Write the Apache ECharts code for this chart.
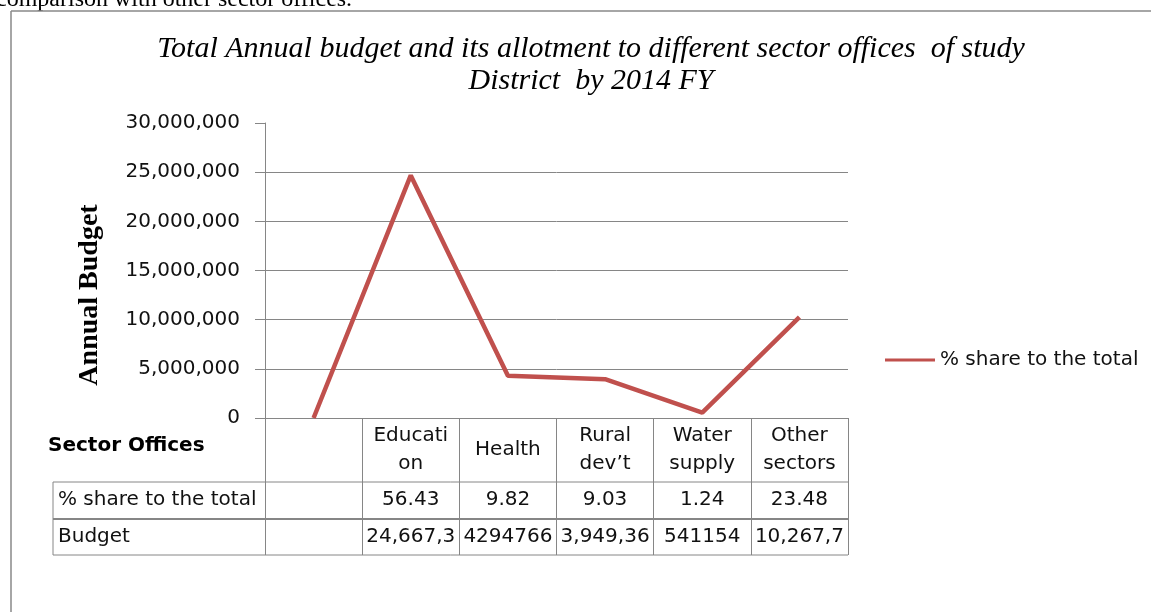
<!DOCTYPE html>
<html>
<head>
<meta charset="utf-8">
<script src="https://cdn.jsdelivr.net/npm/echarts@6/dist/echarts.min.js"></script>
<style>
  html, body { margin: 0; padding: 0; background: #fff; }
  #main { width: 1151px; height: 612px; }
</style>
</head>
<body>
<div id="main"></div>
<script>
// data
const categories = ['', 'Education', 'Health', "Rural dev't", 'Water supply', 'Other sectors']
const categoryLabels = ['', 'Educati\non', 'Health', 'Rural\ndev\u2019t', 'Water\nsupply', 'Other\nsectors']
const budgetValues = [0, 24667350, 4294766, 3949360, 541154, 10267700]
const shareLabels = ['', '56.43', '9.82', '9.03', '1.24', '23.48']
const budgetLabels = ['', '24,667,3', '4294766', '3,949,36', '541154', '10,267,7']
const seriesName = '% share to the total'

const gridColor = '#868686'
const sans = 'DejaVu Sans'

// plot area in px
const gLeft = 265, gRight = 848, gTop = 123, gBottom = 418
const tableLeft = 53, row1 = 482, row2 = 519, row3 = 555

const chart = echarts.init(document.getElementById('main'))

const rowAxis = (labels, offset) => ({
    type: 'category',
    data: labels,
    position: 'bottom',
    offset: offset,
    axisLine: { show: false },
    axisTick: { show: false },
    axisLabel: {
        interval: 0,
        margin: 0,
        verticalAlign: 'middle',
        fontFamily: sans,
        fontSize: 20,
        color: '#111'
    }
})

const option = {
    animation: false,
    backgroundColor: '#fff',
    title: {
        text: 'Total Annual budget and its allotment to different sector offices  of study\nDistrict  by 2014 FY',
        left: 586,
        top: 28,
        textAlign: 'center',
        textStyle: {
            fontFamily: 'Liberation Serif',
            fontStyle: 'italic',
            fontWeight: 'normal',
            fontSize: 30,
            lineHeight: 32,
            color: '#000'
        }
    },
    legend: {
        left: 880,
        top: 345,
        icon: 'rect',
        itemWidth: 50,
        itemHeight: 3,
        data: [seriesName],
        textStyle: { fontFamily: sans, fontSize: 20, color: '#111' }
    },
    grid: {
        left: gLeft,
        right: 1151 - gRight,
        top: gTop,
        bottom: 612 - gBottom,
        containLabel: false
    },
    xAxis: [
        {
            type: 'category',
            data: categories,
            boundaryGap: true,
            axisLine: { lineStyle: { color: gridColor, width: 1 } },
            axisTick: {
                show: true,
                interval: 0,
                length: row3 - gBottom,
                lineStyle: { color: gridColor, width: 1 }
            },
            axisLabel: {
                interval: 0,
                margin: 32,
                verticalAlign: 'middle',
                lineHeight: 28,
                fontFamily: sans,
                fontSize: 20,
                color: '#111',
                formatter: (v, i) => categoryLabels[i]
            }
        },
        rowAxis(shareLabels, row1 + 18 - gBottom),
        rowAxis(budgetLabels, row2 + 18 - gBottom)
    ],
    yAxis: {
        type: 'value',
        min: 0,
        max: 30000000,
        interval: 5000000,
        axisLine: { show: true, lineStyle: { color: gridColor } },
        axisTick: { show: true, length: 10, lineStyle: { color: gridColor } },
        splitLine: { show: true, showMaxLine: false, lineStyle: { color: gridColor } },
        axisLabel: {
            margin: 25,
            fontFamily: sans,
            fontSize: 20,
            color: '#111',
            formatter: v => v.toLocaleString('en-US')
        }
    },
    series: [
        {
            name: seriesName,
            type: 'line',
            data: budgetValues,
            symbol: 'none',
            color: '#C0504D',
            lineStyle: { width: 4.5, color: '#C0504D' }
        }
    ],
    graphic: [
        // clipped text line from the page above the figure
        {
            type: 'text', left: -4, top: -12,
            style: { text: 'comparison with other sector offices.', font: '24px "Liberation Serif"', fill: '#000' }
        },
        // figure frame
        { type: 'line', shape: { x1: 11, y1: 11, x2: 1151, y2: 11 }, style: { stroke: '#888', lineWidth: 1.5 } },
        { type: 'line', shape: { x1: 11, y1: 11, x2: 11, y2: 612 }, style: { stroke: '#888', lineWidth: 1.5 } },
        // axis title
        {
            type: 'text', x: 90, y: 295, rotation: Math.PI / 2,
            style: {
                text: 'Annual Budget', font: 'bold 28px "Liberation Serif"', fill: '#000',
                align: 'center', verticalAlign: 'middle'
            }
        },
        // data table frame
        { type: 'line', shape: { x1: tableLeft, y1: row1, x2: gRight, y2: row1 }, style: { stroke: gridColor, lineWidth: 1 } },
        { type: 'line', shape: { x1: tableLeft, y1: row2, x2: gRight, y2: row2 }, style: { stroke: gridColor, lineWidth: 2 } },
        { type: 'line', shape: { x1: tableLeft, y1: row3, x2: gRight, y2: row3 }, style: { stroke: gridColor, lineWidth: 1 } },
        { type: 'line', shape: { x1: tableLeft, y1: row1, x2: tableLeft, y2: row3 }, style: { stroke: gridColor, lineWidth: 1 } },
        {
            type: 'text', x: 48, y: 446,
            style: { text: 'Sector Offices', font: 'bold 20px "DejaVu Sans"', fill: '#000', verticalAlign: 'middle' }
        },
        {
            type: 'text', x: 58, y: row1 + 18,
            style: { text: seriesName, font: '20px "DejaVu Sans"', fill: '#111', verticalAlign: 'middle' }
        },
        {
            type: 'text', x: 58, y: row2 + 18,
            style: { text: 'Budget', font: '20px "DejaVu Sans"', fill: '#111', verticalAlign: 'middle' }
        }
    ]
}

chart.setOption(option)
</script>
</body>
</html>
